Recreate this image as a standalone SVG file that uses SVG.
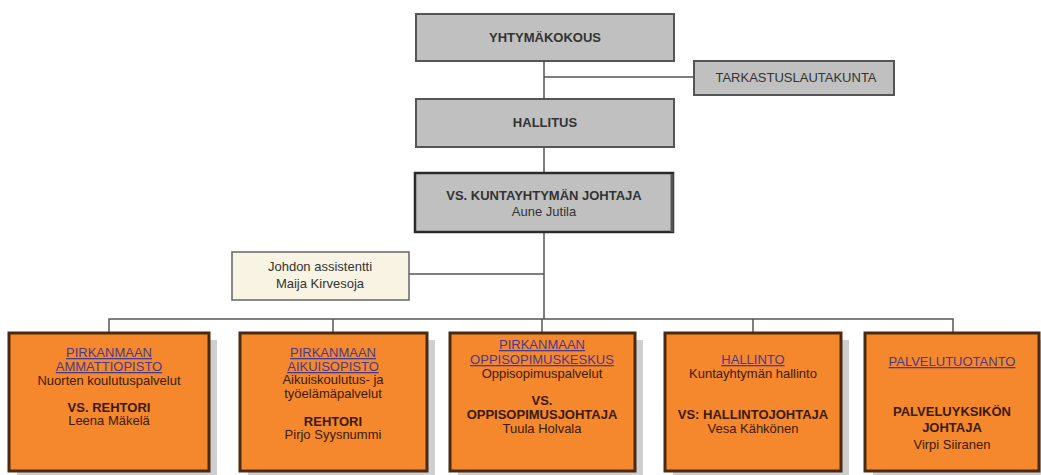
<svg xmlns="http://www.w3.org/2000/svg" width="1041" height="475" viewBox="0 0 1041 475">
<style>
text{font-family:"Liberation Sans",Arial,sans-serif;text-anchor:middle}
.g{fill:#c0c0c0;stroke:#555;stroke-width:2}
.gt{font-size:13px;fill:#333;font-weight:bold}
.o{fill:#f5882c;stroke:#4a2a12;stroke-width:3}
.sh{fill:#cfcfcf}
.t{font-size:13px;fill:#3a1a05}
.b{font-weight:bold}
.l{fill:#4a3a8c;text-decoration:underline}
.c{stroke:#555;stroke-width:1.5;fill:none}
</style>
<g id="connectors">
<path class="c" d="M544 61V173M544 77H694M544 232V319M409 274H544M109 333V319H953V333M333 319V333M542 319V333M753 319V333"/>
</g>
<g id="yhtymakokous">
<rect class="g" x="416" y="14" width="258" height="47"/>
<text class="gt" x="545" y="42">YHTYMÄKOKOUS</text>
</g>
<g id="tarkastuslautakunta">
<rect class="g" x="694" y="61" width="200" height="34"/>
<text class="gt" x="796" y="82" style="font-weight:normal">TARKASTUSLAUTAKUNTA</text>
</g>
<g id="hallitus">
<rect class="g" x="416" y="99" width="258" height="48"/>
<text class="gt" x="545" y="127">HALLITUS</text>
</g>
<g id="johtaja">
<rect x="415" y="173" width="258" height="59" fill="#c0c0c0" stroke="#2a2a2a" stroke-width="2.5"/>
<line x1="672" y1="174" x2="672" y2="232" stroke="#555" stroke-width="3"/>
<text class="gt" x="544" y="200">VS. KUNTAYHTYMÄN JOHTAJA</text>
<text x="544" y="216" style="font-size:13px;fill:#333">Aune Jutila</text>
</g>
<g id="assistentti">
<rect x="232" y="252" width="177" height="48" fill="#f8f3e2" stroke="#666" stroke-width="1.5"/>
<text class="t" x="320" y="271" style="fill:#333">Johdon assistentti</text>
<text class="t" x="320" y="288" style="fill:#333">Maija Kirvesoja</text>
</g>
<g id="ammattiopisto">
<rect class="sh" x="17" y="340" width="200" height="137"/>
<rect class="o" x="9" y="333" width="200" height="138"/>
<text class="t l" x="109" y="357">PIRKANMAAN</text>
<text class="t l" x="109" y="371">AMMATTIOPISTO</text>
<text class="t" x="109" y="385">Nuorten koulutuspalvelut</text>
<text class="t b" x="109" y="412">VS. REHTORI</text>
<text class="t" x="109" y="425">Leena Mäkelä</text>
</g>
<g id="aikuisopisto">
<rect class="sh" x="248" y="340" width="187" height="137"/>
<rect class="o" x="240" y="333" width="187" height="138"/>
<text class="t l" x="333" y="357">PIRKANMAAN</text>
<text class="t l" x="333" y="371">AIKUISOPISTO</text>
<text class="t" x="333" y="384">Aikuiskoulutus- ja</text>
<text class="t" x="333" y="398">työelämäpalvelut</text>
<text class="t b" x="333" y="426">REHTORI</text>
<text class="t" x="333" y="439">Pirjo Syysnummi</text>
</g>
<g id="oppisopimuskeskus">
<rect class="sh" x="458" y="340" width="185" height="137"/>
<rect class="o" x="450" y="333" width="185" height="138"/>
<text class="t l" x="542" y="349">PIRKANMAAN</text>
<text class="t l" x="542" y="364">OPPISOPIMUSKESKUS</text>
<text class="t" x="542" y="378">Oppisopimuspalvelut</text>
<text class="t b" x="542" y="405">VS.</text>
<text class="t b" x="542" y="419">OPPISOPIMUSJOHTAJA</text>
<text class="t" x="542" y="433">Tuula Holvala</text>
</g>
<g id="hallinto">
<rect class="sh" x="673" y="340" width="176" height="137"/>
<rect class="o" x="665" y="333" width="176" height="138"/>
<text class="t l" x="753" y="364">HALLINTO</text>
<text class="t" x="753" y="378">Kuntayhtymän hallinto</text>
<text class="t b" x="753" y="419">VS: HALLINTOJOHTAJA</text>
<text class="t" x="753" y="433">Vesa Kähkönen</text>
</g>
<g id="palvelutuotanto">
<rect class="sh" x="873" y="340" width="168" height="137"/>
<rect class="o" x="865" y="333" width="174" height="138"/>
<text class="t l" x="952" y="366">PALVELUTUOTANTO</text>
<text class="t b" x="952" y="416">PALVELUYKSIKÖN</text>
<text class="t b" x="952" y="432">JOHTAJA</text>
<text class="t" x="952" y="449">Virpi Siiranen</text>
</g>
</svg>
